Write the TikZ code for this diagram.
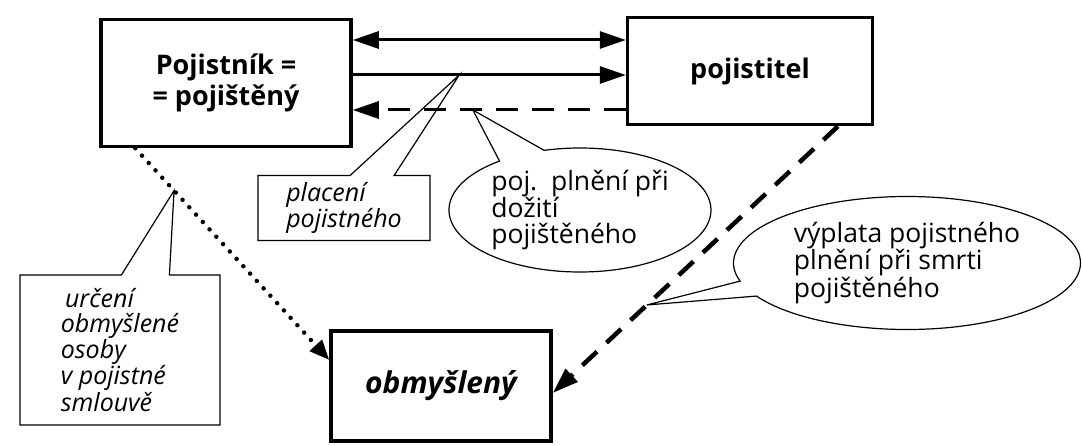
\documentclass[tikz,border=0pt]{standalone}
\usepackage{fontspec}
\setmainfont{Open Sans}
\usetikzlibrary{arrows.meta,shapes.callouts}

\begin{document}
\begin{tikzpicture}[x=1pt,y=-1pt,>={Triangle[length=26pt,width=17pt]},
                    party/.style={draw,line width=3.5pt,align=center,
                      font=\fontsize{27}{31}\selectfont\bfseries},
                    note/.style={draw,line width=1.2pt,align=left,
                      font=\fontsize{26.5}{26}\selectfont},
                    slantnote/.style={note,font=\fontsize{25}{25}\selectfont\itshape},
                    flow/.style={line width=3pt}]
	\useasboundingbox (0,0) rectangle (1082,446);
	\node[party,minimum width=250pt,minimum height=127pt]	(pn)	at (226,83)	{Pojistník =\\= pojištěný};
	\node[party,minimum width=245pt,minimum height=107pt]	(pt)	[node distance=524pt, right of = pn, yshift=12pt]	{pojistitel};
	\node[party,minimum width=220pt,minimum height=110pt,
	      font=\fontsize{30}{31}\selectfont\bfseries\itshape]	(ob)	at (441,386)	{obmyšlený};
	\coordinate (r1) at (0,40);
	\coordinate (r2) at (0,75);
	\coordinate (r3) at (0,110);

	\draw[flow,<->]	(pn.east |- r1) -- (pt.west |- r1);
	\draw[flow,->]	(pn.east |- r2) -- coordinate[pos=0.39] (pay) (pt.west |- r2);
	\draw[flow,->,dash pattern=on 22pt off 14pt]
		(pt.west |- r3) -- coordinate[pos=0.56] (live) (pn.east |- r3);
	\draw[->,line width=4.5pt,line cap=round,dash pattern=on 0pt off 10pt,
	      >={Triangle[length=20pt,width=16pt]}]
		([xshift=36pt]pn.south west) -- coordinate[pos=0.2] (bene) ([yshift=26pt]ob.west);
	\draw[->,line width=4.5pt,dash pattern=on 20pt off 13pt]
		([xshift=88pt]pt.south) -- coordinate[pos=0.67] (death) ([yshift=-7pt]ob.east);

	\node[slantnote,rectangle callout,minimum width=172pt,minimum height=65pt,
	      callout absolute pointer={(pay)},callout pointer width=44pt]	(payn)	at (344,208)	{placení\\pojistného};
	\node[note,ellipse callout,minimum width=262pt,minimum height=124pt,
	      callout absolute pointer={(live)},callout pointer arc=22]	(liven)	at (580,210)	{poj.\ \ plnění při\\dožití\\pojištěného};
	\node[note,ellipse callout,minimum width=347pt,minimum height=133pt,
	      callout absolute pointer={(death)},callout pointer arc=14]	(deathn)	at (907,263)	{výplata pojistného\\plnění při smrti\\pojištěného};
	\node[slantnote,rectangle callout,minimum width=200pt,minimum height=150pt,
	      callout absolute pointer={(bene)},callout pointer width=48pt]	(benen)	at (120,350)	{\,určení\\obmyšlené\\osoby\\v pojistné\\smlouvě};

\end{tikzpicture}
\end{document}
